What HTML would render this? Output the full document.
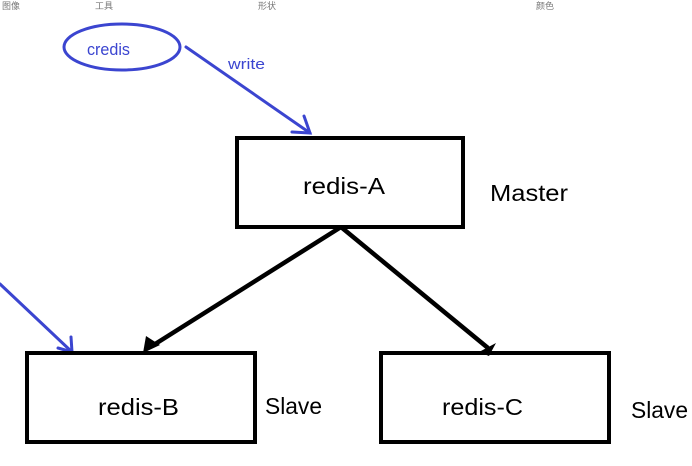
<!DOCTYPE html>
<html><head><style>
html,body{margin:0;padding:0;background:#fff;width:692px;height:466px;overflow:hidden}
svg{display:block}
</style></head><body>
<svg width="692" height="466" viewBox="0 0 692 466" xmlns="http://www.w3.org/2000/svg" font-family="'Liberation Sans','Noto Sans CJK SC',sans-serif">
<g font-size="9" fill="#777">
<text x="2" y="9">图像</text><text x="95" y="9">工具</text><text x="258" y="9">形状</text><text x="536" y="9">颜色</text>
</g>
<ellipse cx="122" cy="47" rx="58" ry="23" fill="none" stroke="#3b45d0" stroke-width="3"/>
<text x="87" y="55" font-size="17" fill="#3b45d0" textLength="43" lengthAdjust="spacingAndGlyphs">credis</text>
<text x="228" y="69" font-size="15" fill="#3b45d0" textLength="37" lengthAdjust="spacingAndGlyphs">write</text>
<g stroke="#3b45d0" stroke-width="3" fill="none" stroke-linecap="round">
<path d="M186 47 L310 133"/><path d="M304 116 L310 133 L292 132"/>
<path d="M0 284 L72 352"/><path d="M71 337 L72 352 L58 348"/>
</g>
<g stroke="#000" stroke-width="4" fill="none">
<rect x="237" y="138" width="226" height="89"/>
<rect x="27" y="353" width="228" height="89"/>
<rect x="381" y="353" width="228" height="89"/>
<path d="M341 227 L152 346 M341 227 L488 348" stroke-width="4.5"/>
</g>
<path d="M143 353 L146 336 L160 345 Z" fill="#000"/>
<path d="M479 352 L496 343 L489 356 Z" fill="#000"/>
<g font-size="23" fill="#000">
<text x="303" y="194" textLength="82" lengthAdjust="spacingAndGlyphs">redis-A</text>
<text x="98" y="415" textLength="81" lengthAdjust="spacingAndGlyphs">redis-B</text>
<text x="442" y="415" textLength="81" lengthAdjust="spacingAndGlyphs">redis-C</text>
<text x="490" y="201" textLength="78" lengthAdjust="spacingAndGlyphs">Master</text>
<text x="265" y="414" textLength="57" lengthAdjust="spacingAndGlyphs">Slave</text>
<text x="631" y="418" textLength="57" lengthAdjust="spacingAndGlyphs">Slave</text>
</g>
</svg>
</body></html>
